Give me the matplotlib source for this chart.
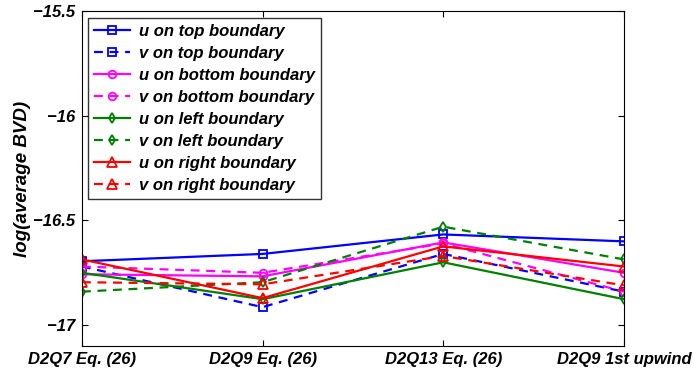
import numpy as np
import matplotlib
matplotlib.use("Agg")
import matplotlib.pyplot as plt

plt.rcParams['font.family'] = ['Liberation Sans', 'DejaVu Sans']

schemes = ["D2Q7 Eq. (26)", "D2Q9 Eq. (26)", "D2Q13 Eq. (26)", "D2Q9 1st upwind"]

u_top = [-16.695, -16.66, -16.567, -16.60]
v_top = [-16.72, -16.914, -16.66, -16.84]
u_bottom = [-16.757, -16.767, -16.605, -16.75]
v_bottom = [-16.72, -16.75, -16.61, -16.84]
u_left = [-16.75, -16.876, -16.70, -16.876]
v_left = [-16.84, -16.795, -16.53, -16.686]
u_right = [-16.686, -16.871, -16.624, -16.72]
v_right = [-16.795, -16.805, -16.67, -16.81]

series = [
    (u_top, "u on top boundary", "b", "-", "s"),
    (v_top, "v on top boundary", "b", "--", "s"),
    (u_bottom, "u on bottom boundary", "m", "-", "o"),
    (v_bottom, "v on bottom boundary", "m", "--", "o"),
    (u_left, "u on left boundary", "g", "-", "d"),
    (v_left, "v on left boundary", "g", "--", "d"),
    (u_right, "u on right boundary", "r", "-", "^"),
    (v_right, "v on right boundary", "r", "--", "^"),
]
colors = {"b": "#0000ff", "m": "#ff00ff", "g": "#008000", "r": "#ff0000"}

fig = plt.figure(figsize=(6.94, 3.75), dpi=100)
ax = fig.add_axes([0.118, 0.077, 0.781, 0.894])

x = np.arange(1, len(schemes) + 1)
for vals, lab, c, ls, mk in series:
    ax.plot(x, vals, color=colors[c], linestyle=ls, marker=mk, linewidth=1.6,
            markersize=5.5 if mk != "^" else 7, markerfacecolor="none",
            markeredgewidth=1.3, label=lab, dashes=(4, 3) if ls == "--" else (None, None))

ax.set_xlim(1, 4)
ax.set_ylim(-17.1, -15.5)
ax.set_xticks(x)
ax.set_xticklabels(schemes, fontsize=12, fontweight="bold", fontstyle="italic")
ax.set_yticks([-17, -16.5, -16, -15.5])
ax.set_yticklabels(["\u221217", "\u221216.5", "\u221216", "\u221215.5"],
                   fontsize=12, fontweight="bold", fontstyle="italic")
ax.tick_params(direction="in", top=True, right=True, length=4, width=0.8, pad=4)
ax.tick_params(axis="y", pad=5)
ax.set_ylabel("log(average BVD)", fontsize=13.5, fontweight="bold", fontstyle="italic", labelpad=1)

leg = ax.legend(loc="upper left", bbox_to_anchor=(0.011, 0.979), frameon=True, fancybox=False,
                edgecolor="black", borderaxespad=0.0, handlelength=2.2,
                labelspacing=0.42, borderpad=0.35, handletextpad=0.5,
                prop={"weight": "bold", "style": "italic", "size": 12})
leg.get_frame().set_linewidth(1.0)

plt.savefig("out.png", dpi=100)
